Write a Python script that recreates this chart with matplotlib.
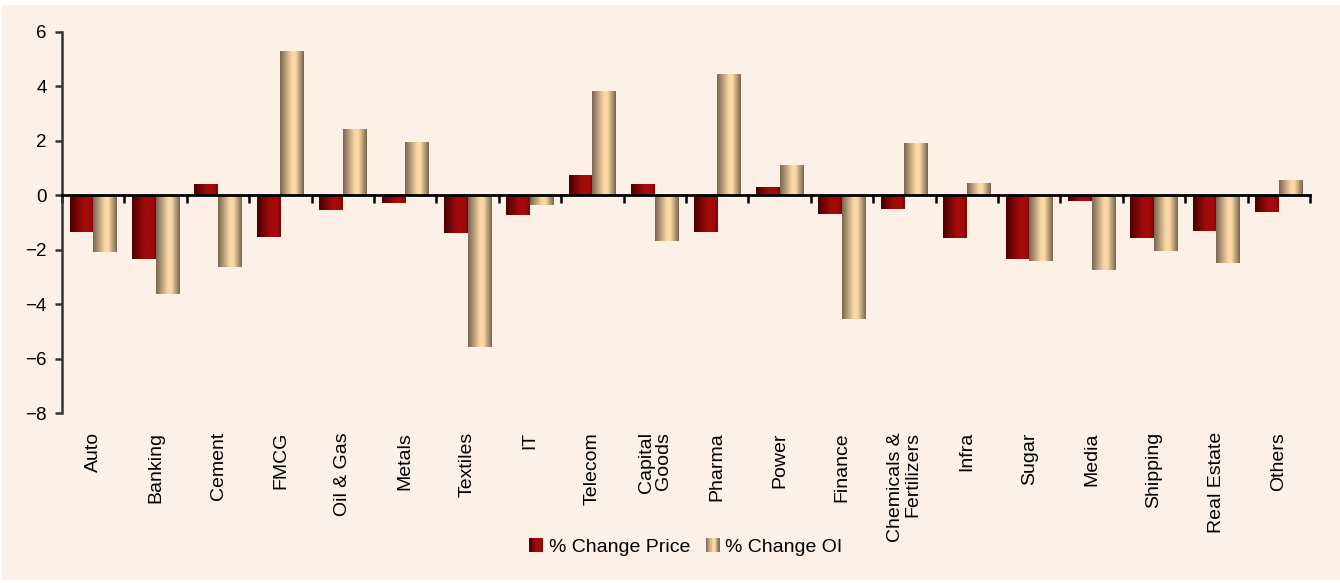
import numpy as np
import matplotlib
matplotlib.use('Agg')
import matplotlib.pyplot as plt
from matplotlib.colors import LinearSegmentedColormap
from matplotlib.patches import Rectangle
from matplotlib.legend_handler import HandlerBase

plt.rcParams['font.family'] = ['Liberation Sans', 'DejaVu Sans']

# ---- data ----
sectors = ['Auto', 'Banking', 'Cement', 'FMCG', 'Oil & Gas', 'Metals', 'Textiles', 'IT',
           'Telecom', 'Capital\nGoods', 'Pharma', 'Power', 'Finance', 'Chemicals &\nFertilizers',
           'Infra', 'Sugar', 'Media', 'Shipping', 'Real Estate', 'Others']
chg_price = [-1.35, -2.35, 0.40, -1.53, -0.54, -0.27, -1.39, -0.72, 0.70, 0.37,
             -1.35, 0.29, -0.69, -0.50, -1.57, -2.34, -0.21, -1.57, -1.31, -0.61]
chg_oi = [-2.09, -3.63, -2.64, 5.27, 2.39, 1.92, -5.58, -0.36, 3.79, -1.68,
          4.41, 1.10, -4.55, 1.88, 0.44, -2.42, -2.75, -2.05, -2.49, 0.55]
series_names = ['% Change Price', '% Change OI']
y_ticks = [-8, -6, -4, -2, 0, 2, 4, 6]

BG = '#FCF0E7'
price_cmap = LinearSegmentedColormap.from_list(
    'price', [(0, '#4A0000'), (0.55, '#A30B0B'), (0.85, '#A30B0B'), (1, '#780505')])
oi_cmap = LinearSegmentedColormap.from_list(
    'oi', [(0, '#7A6650'), (0.5, '#FBD9A6'), (0.65, '#FBD9A6'), (1, '#7A6650')])
grad = np.linspace(0, 1, 64).reshape(1, -1)


class GradientHandler(HandlerBase):
    def __init__(self, cmap):
        super().__init__()
        self.cmap = cmap

    def create_artists(self, legend, orig_handle, xdescent, ydescent, width, height, fontsize, trans):
        n = 12
        side = min(width, height)
        x0 = -xdescent + (width - side) / 2
        y0 = -ydescent + (height - side) / 2
        arts = []
        for i in range(n):
            r = Rectangle((x0 + i * side / n, y0), side / n * 1.05, side,
                          facecolor=self.cmap((i + 0.5) / n), edgecolor='none', transform=trans)
            arts.append(r)
        return arts


fig = plt.figure(figsize=(13.4, 5.83), dpi=100, facecolor='white')
fig.patches.append(Rectangle((2 / 1340, 3 / 583), 1 - 2 / 1340, 1 - 8 / 583,
                             transform=fig.transFigure, facecolor=BG, edgecolor='none', zorder=-10))
ax = fig.add_axes([62 / 1340, 1 - 413 / 583, (1310 - 62) / 1340, (413 - 32) / 583])
ax.set_facecolor('none')

x = np.arange(len(sectors))
w = 0.377
b1 = ax.bar(x - w / 2, chg_price, w, color='none', label=series_names[0])
b2 = ax.bar(x + w / 2, chg_oi, w, color='none', label=series_names[1])
for bars, cmap in ((b1, price_cmap), (b2, oi_cmap)):
    for r in bars:
        bx, by = r.get_x(), r.get_y()
        bw, bh = r.get_width(), r.get_height()
        ax.imshow(grad, cmap=cmap, extent=[bx, bx + bw, by, by + bh],
                  aspect='auto', interpolation='bilinear', zorder=2)

ax.set_xlim(-0.5, len(sectors) - 0.5)
ax.set_ylim(-8, 6)
ax.set_yticks(y_ticks)
ax.tick_params(axis='y', direction='out', length=5, width=1.8, color='#333333',
               labelsize=13.5, pad=6)

ax.spines['top'].set_visible(False)
ax.spines['right'].set_visible(False)
ax.spines['left'].set_color('#333333')
ax.spines['left'].set_linewidth(1.8)
ax.spines['bottom'].set_position(('data', 0))
ax.spines['bottom'].set_linewidth(2)
ax.spines['bottom'].set_color('black')
ax.spines['bottom'].set_zorder(3)
ax.set_xticks(np.arange(len(sectors) + 1) - 0.5)
ax.set_xticklabels([])
ax.tick_params(axis='x', direction='out', length=6, width=1.8, color='black')

for i, s in enumerate(sectors):
    ax.text(i, -0.05, s, transform=ax.get_xaxis_transform(), rotation=90,
            ha='center', va='top', multialignment='right', fontsize=14, linespacing=1.0)

fig.legend(handles=[b1, b2], labels=series_names, loc='center',
           bbox_to_anchor=(686 / 1340, 1 - 547 / 583), ncol=2, frameon=False,
           fontsize=14, handlelength=0.7, handleheight=0.7, handletextpad=0.3,
           columnspacing=0.8,
           handler_map={b1: GradientHandler(price_cmap), b2: GradientHandler(oi_cmap)})

fig.savefig('out.png', dpi=100, facecolor='white')
